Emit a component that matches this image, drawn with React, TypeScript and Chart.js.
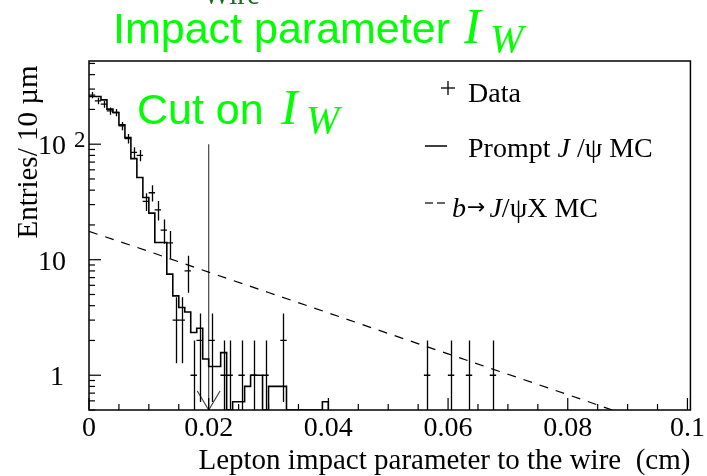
import { useEffect, useRef } from 'react';
import { Chart, registerables } from 'chart.js';

Chart.register(...registerables);

const SERIF = '"Liberation Serif", "Times New Roman", serif';
const SANS = '"Liberation Sans", Arial, sans-serif';
const GREEN = '#00ff00';
const DARK_GREEN = '#1b6b1b';

// Axis ranges (x in cm, y in entries per 10 µm)
const X_MIN = 0;
const X_MAX = 0.1005;
const Y_MIN = 0.5;
const Y_MAX = 525;
const BIN_WIDTH = 0.001;

const X_TICKS = [0, 0.02, 0.04, 0.06, 0.08, 0.1];
const X_TICK_LABELS = ['0', '0.02', '0.04', '0.06', '0.08', '0.1'];
const X_MINOR_STEP = 0.005;
const Y_DECADES = [1, 10, 100];

// Prompt J/psi MC, one value per 10 µm bin starting at 0
const promptMC = [
  259, 259, 242, 201, 188, 147, 114, 75, 51.5, 34.6,
  25.3, 14.1, 14.1, 7.5, 4.86, 3.86, 3.53, 2.34, 2.55, 1.38,
  1.19, 1.19, 1.57, 0, 0.59, 0.59, 0.8, 1.0, 1.0, 0,
  0.8, 0.8, 0.8, 0, 0, 0, 0, 0, 0, 0.59,
];

// Data: bin index and number of entries
const dataBins = [0, 1, 2, 3, 4, 5, 6, 7, 8, 9, 10, 11, 12, 13, 14, 15, 16, 17, 18, 20, 22, 23, 25, 27, 29, 32, 56, 60, 63, 67];
const dataEntries = [266, 237, 222, 194, 188, 144, 112, 85, 80, 32, 38, 27, 18, 14, 3, 3, 8, 1, 2, 2, 1, 1, 1, 1, 1, 2, 1, 1, 1, 1];

// b -> J/psi X MC expectation
const bMC_x = [0, 0.01, 0.02, 0.03, 0.04, 0.05, 0.06, 0.07, 0.08, 0.09];
const bMC_y = [17.6, 11.8, 7.8, 5.2, 3.46, 2.3, 1.53, 1.02, 0.68, 0.45];

// Cut on the impact parameter
const CUT_X = 0.02;
const CUT_TOP = 100;
const ARROW_HALF_WIDTH = 0.0019;
const ARROW_HEAD_Y = 0.73;

function drawText(
  ctx: CanvasRenderingContext2D,
  str: string,
  x: number,
  y: number,
  font: string,
  color: string,
  align: CanvasTextAlign = 'left',
  scaleX = 1,
): number {
  ctx.save();
  ctx.font = font;
  ctx.fillStyle = color;
  ctx.textAlign = align;
  ctx.textBaseline = 'alphabetic';
  ctx.translate(x, y);
  ctx.scale(scaleX, 1);
  ctx.fillText(str, 0, 0);
  const w = ctx.measureText(str).width * scaleX;
  ctx.restore();
  return w;
}

function line(ctx: CanvasRenderingContext2D, x1: number, y1: number, x2: number, y2: number) {
  ctx.beginPath();
  ctx.moveTo(x1, y1);
  ctx.lineTo(x2, y2);
  ctx.stroke();
}

const errorBars = {
  id: 'errorBars',
  afterDatasetsDraw(chart: any) {
    const { ctx, chartArea: a } = chart;
    const xs = chart.scales.x;
    const ys = chart.scales.y;
    ctx.save();
    ctx.beginPath();
    ctx.rect(a.left, a.top, a.right - a.left, a.bottom - a.top);
    ctx.clip();
    ctx.strokeStyle = '#000';
    ctx.lineWidth = 1.3;
    dataBins.forEach((b, i) => {
      const n = dataEntries[i];
      const e = Math.sqrt(n);
      const px = Math.round(xs.getPixelForValue((b + 0.5) * BIN_WIDTH)) + 0.5;
      const top = ys.getPixelForValue(n + e);
      const bottom = n - e > 0 ? ys.getPixelForValue(n - e) : a.bottom;
      line(ctx, px, top, px, bottom);
    });
    ctx.restore();
  },
};

const frameAndText = {
  id: 'frameAndText',
  afterDraw(chart: any) {
    const { ctx, chartArea: a } = chart;
    const xs = chart.scales.x;
    const ys = chart.scales.y;
    ctx.save();

    // frame
    ctx.strokeStyle = '#000';
    ctx.lineWidth = 1.5;
    ctx.strokeRect(a.left, a.top, a.right - a.left, a.bottom - a.top);

    // x ticks, pointing inwards
    ctx.lineWidth = 1.2;
    for (let k = 0; k * X_MINOR_STEP <= 0.1 + 1e-9; k++) {
      const v = k * X_MINOR_STEP;
      const px = xs.getPixelForValue(v);
      const major = X_TICKS.some((t) => Math.abs(t - v) < 1e-9);
      line(ctx, px, a.bottom, px, a.bottom - (major ? 12 : 6));
    }
    // y ticks
    for (const d of [0.1, 1, 10, 100]) {
      for (let m = 1; m <= 9; m++) {
        const v = m * d;
        if (v < Y_MIN || v > Y_MAX) continue;
        const py = ys.getPixelForValue(v);
        line(ctx, a.left, py, a.left + (m === 1 ? 12 : 6), py);
      }
    }

    // y tick labels
    const labelFont = `28px ${SERIF}`;
    for (const d of Y_DECADES) {
      const py = ys.getPixelForValue(d);
      if (d === 100) {
        drawText(ctx, '10', 66, py + 10, labelFont, '#000', 'right');
        drawText(ctx, '2', 74, py + 3, `23px ${SERIF}`, '#000', 'left');
      } else {
        drawText(ctx, String(d), d === 1 ? 64 : 66, py + 10, labelFont, '#000', 'right');
      }
    }

    // y axis title
    ctx.save();
    ctx.translate(37, 152);
    ctx.rotate(-Math.PI / 2);
    drawText(ctx, 'Entries/ 10 µm', 0, 0, `29px ${SERIF}`, '#000', 'center');
    ctx.restore();

    // headline
    drawText(ctx, 'Wire', 203, 4, `29px ${SERIF}`, DARK_GREEN);
    drawText(ctx, 'Impact parameter', 113, 43, `43px ${SANS}`, GREEN);
    drawText(ctx, 'I', 464, 43, `italic 50px ${SERIF}`, GREEN);
    drawText(ctx, 'W', 490, 52, `italic 40px ${SERIF}`, GREEN);

    // cut label
    drawText(ctx, 'Cut on', 137, 124, `43px ${SANS}`, GREEN);
    drawText(ctx, 'I', 281, 124, `italic 50px ${SERIF}`, GREEN);
    drawText(ctx, 'W', 306, 133, `italic 40px ${SERIF}`, GREEN);

    // legend
    ctx.strokeStyle = '#000';
    ctx.lineWidth = 1.3;
    line(ctx, 441, 88, 455, 88);
    line(ctx, 448, 81, 448, 95);
    drawText(ctx, 'Data', 468, 102, `28px ${SERIF}`, '#000');

    ctx.lineWidth = 1.5;
    line(ctx, 425, 146, 447, 146);
    let x = 468;
    x += drawText(ctx, 'Prompt ', x, 157, `28px ${SERIF}`, '#000');
    x += drawText(ctx, 'J', x, 157, `italic 28px ${SERIF}`, '#000');
    drawText(ctx, ' /ψ MC', x, 157, `28px ${SERIF}`, '#000');

    ctx.lineWidth = 1.2;
    line(ctx, 425, 203, 433, 203);
    line(ctx, 437, 203, 445, 203);
    x = 452;
    x += drawText(ctx, 'b', x, 217, `italic 28px ${SERIF}`, '#000');
    x += drawText(ctx, '→', x + 1, 214, `22px "DejaVu Sans", sans-serif`, '#000') + 5;
    x += drawText(ctx, 'J', x, 217, `italic 28px ${SERIF}`, '#000');
    drawText(ctx, '/ψX MC', x, 217, `28px ${SERIF}`, '#000');

    ctx.restore();
  },
};

export default function App() {
  const canvasRef = useRef<HTMLCanvasElement | null>(null);

  useEffect(() => {
    document.body.style.margin = '0';
    const canvas = canvasRef.current;
    if (!canvas) return;

    const floor = (v: number) => (v > 0 ? v : Y_MIN);
    const histPoints = promptMC.map((v, i) => ({ x: i * BIN_WIDTH, y: floor(v) }));
    histPoints.push({ x: promptMC.length * BIN_WIDTH, y: Y_MIN });

    const chart = new Chart(canvas, {
      type: 'line',
      data: {
        datasets: [
          {
            label: 'Prompt J/ψ MC',
            data: histPoints,
            stepped: 'before',
            borderColor: '#000',
            borderWidth: 1.6,
            pointRadius: 0,
            fill: false,
            clip: 0,
          },
          {
            label: 'Data',
            type: 'scatter',
            data: dataBins.map((b, i) => ({ x: (b + 0.5) * BIN_WIDTH, y: dataEntries[i] })),
            pointStyle: 'line',
            pointRadius: 3.2,
            borderColor: '#000',
            borderWidth: 1.3,
            backgroundColor: '#000',
            clip: 0,
          },
          {
            label: 'b→J/ψX MC',
            data: bMC_x.map((v, i) => ({ x: v, y: bMC_y[i] })),
            borderColor: '#000',
            borderWidth: 1.2,
            borderDash: [9, 8],
            pointRadius: 0,
            fill: false,
            clip: 0,
          },
          {
            label: 'cut',
            data: [
              { x: CUT_X, y: CUT_TOP },
              { x: CUT_X, y: Y_MIN },
            ],
            borderColor: '#444',
            borderWidth: 1.2,
            pointRadius: 0,
            fill: false,
            clip: 0,
          },
          {
            label: 'arrow',
            data: [
              { x: CUT_X - ARROW_HALF_WIDTH, y: ARROW_HEAD_Y },
              { x: CUT_X, y: Y_MIN },
              { x: CUT_X + ARROW_HALF_WIDTH, y: ARROW_HEAD_Y },
            ],
            borderColor: '#444',
            borderWidth: 1.2,
            pointRadius: 0,
            fill: false,
            clip: 0,
          },
        ],
      },
      options: {
        animation: false,
        responsive: false,
        events: [],
        layout: { padding: { left: 0, top: 61, right: 13, bottom: 0 }, autoPadding: false },
        plugins: { legend: { display: false }, tooltip: { enabled: false } },
        scales: {
          x: {
            type: 'linear',
            min: X_MIN,
            max: X_MAX,
            grid: { display: false, drawTicks: false },
            border: { display: false },
            ticks: {
              font: { family: SERIF, size: 28 },
              color: '#000',
              padding: 2,
              maxRotation: 0,
              autoSkip: false,
              callback: (_v: any, i: number) => X_TICK_LABELS[i],
            },
            afterBuildTicks: (scale: any) => {
              scale.ticks = X_TICKS.map((v) => ({ value: v }));
            },
            afterFit: (scale: any) => {
              scale.height = 66;
            },
            title: {
              display: true,
              text: 'Lepton impact parameter to the wire  (cm)',
              align: 'end',
              font: { family: SERIF, size: 29, lineHeight: 1 },
              color: '#000',
              padding: { top: 0, bottom: 0 },
            },
          },
          y: {
            type: 'logarithmic',
            min: Y_MIN,
            max: Y_MAX,
            grid: { display: false, drawTicks: false },
            border: { display: false },
            ticks: { display: false },
            afterFit: (scale: any) => {
              scale.width = 89;
            },
          },
        },
      },
      plugins: [errorBars, frameAndText],
    });

    return () => chart.destroy();
  }, []);

  return (
    <div style={{ width: 707, height: 476 }}>
      <canvas ref={canvasRef} width={707} height={476} style={{ display: 'block' }} />
    </div>
  );
}
